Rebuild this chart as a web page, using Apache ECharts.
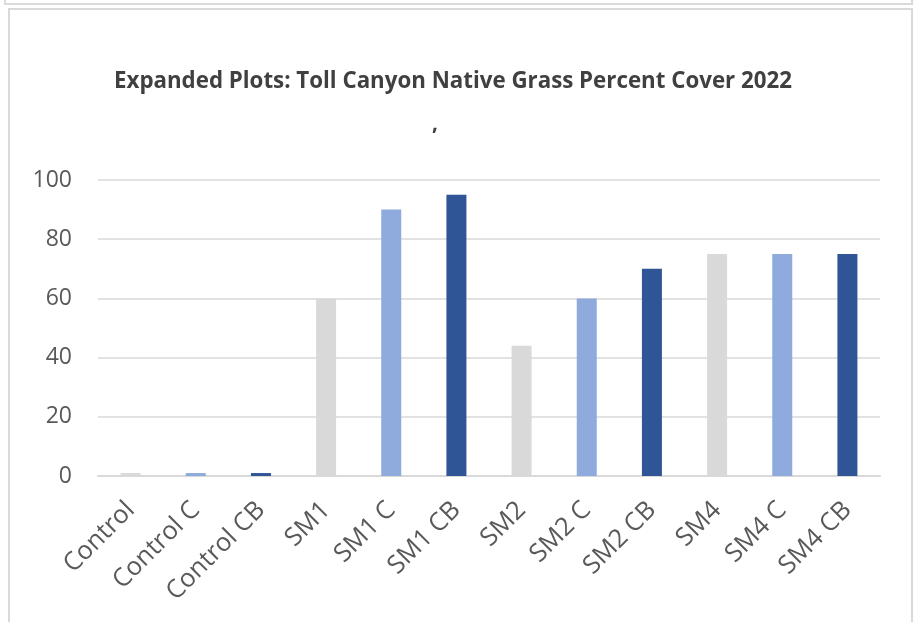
<!DOCTYPE html>
<html>
<head>
<meta charset="utf-8">
<script src="https://cdn.jsdelivr.net/npm/echarts@6/dist/echarts.min.js"></script>
<style>
  html, body { margin: 0; padding: 0; background: #fff; }
  #chart { width: 916px; height: 622px; }
</style>
</head>
<body>
<div id="chart"></div>
<script>
// Plot categories and percent cover values
const categories = ['Control', 'Control C', 'Control CB', 'SM1', 'SM1 C', 'SM1 CB',
                    'SM2', 'SM2 C', 'SM2 CB', 'SM4', 'SM4 C', 'SM4 CB'];
const coverValues = [1, 1, 1, 60, 90, 95, 44, 60, 70, 75, 75, 75];
const yTicks = [0, 20, 40, 60, 80, 100];

// Treatment colours repeat: untreated, C, CB
const treatmentColors = ['#D9D9D9', '#8FAADC', '#2F5597'];

const chart = echarts.init(document.getElementById('chart'));
const font = '"Open Sans", "Noto Sans", sans-serif';

chart.setOption({
  animation: false,
  backgroundColor: '#ffffff',
  title: {
    text: 'Expanded Plots: Toll Canyon Native Grass Percent Cover 2022',
    left: 109,
    top: 66,
    textStyle: { fontFamily: font, fontSize: 22.3, fontWeight: 'bold', color: '#404040' }
  },
  grid: { left: 98, right: 36, top: 180, bottom: 146 },
  xAxis: {
    type: 'category',
    data: categories,
    axisLine: { show: true, lineStyle: { color: '#D9D9D9', width: 2 } },
    axisTick: { show: false },
    axisLabel: {
      interval: 0,
      rotate: 45,
      margin: 30,
      fontFamily: font,
      fontSize: 25.5,
      color: '#595959'
    }
  },
  yAxis: {
    type: 'value',
    min: yTicks[0],
    max: yTicks[yTicks.length - 1],
    interval: 20,
    axisLine: { show: false },
    axisTick: { show: false },
    splitLine: { lineStyle: { color: '#D9D9D9', width: 1.5 } },
    axisLabel: {
      margin: 26,
      fontFamily: font,
      fontSize: 23,
      color: '#595959'
    }
  },
  series: [{
    type: 'bar',
    barWidth: 20,
    data: coverValues.map((v, i) => ({
      value: v,
      itemStyle: { color: treatmentColors[i % 3] }
    }))
  }],
  graphic: [
    {
      type: 'rect',
      shape: { x: 5, y: -20, width: 907, height: 24 },
      style: { fill: 'none', stroke: '#D9D9D9', lineWidth: 2 },
      silent: true
    },
    {
      type: 'rect',
      shape: { x: 9, y: 9, width: 903, height: 640 },
      style: { fill: 'none', stroke: '#D9D9D9', lineWidth: 2 },
      silent: true
    },
    {
      type: 'text',
      x: 432,
      y: 114,
      style: {
        text: ',',
        font: 'bold 21px "Open Sans", sans-serif',
        fill: '#404040',
        textBaseline: 'alphabetic'
      },
      silent: true
    }
  ]
});
</script>
</body>
</html>
